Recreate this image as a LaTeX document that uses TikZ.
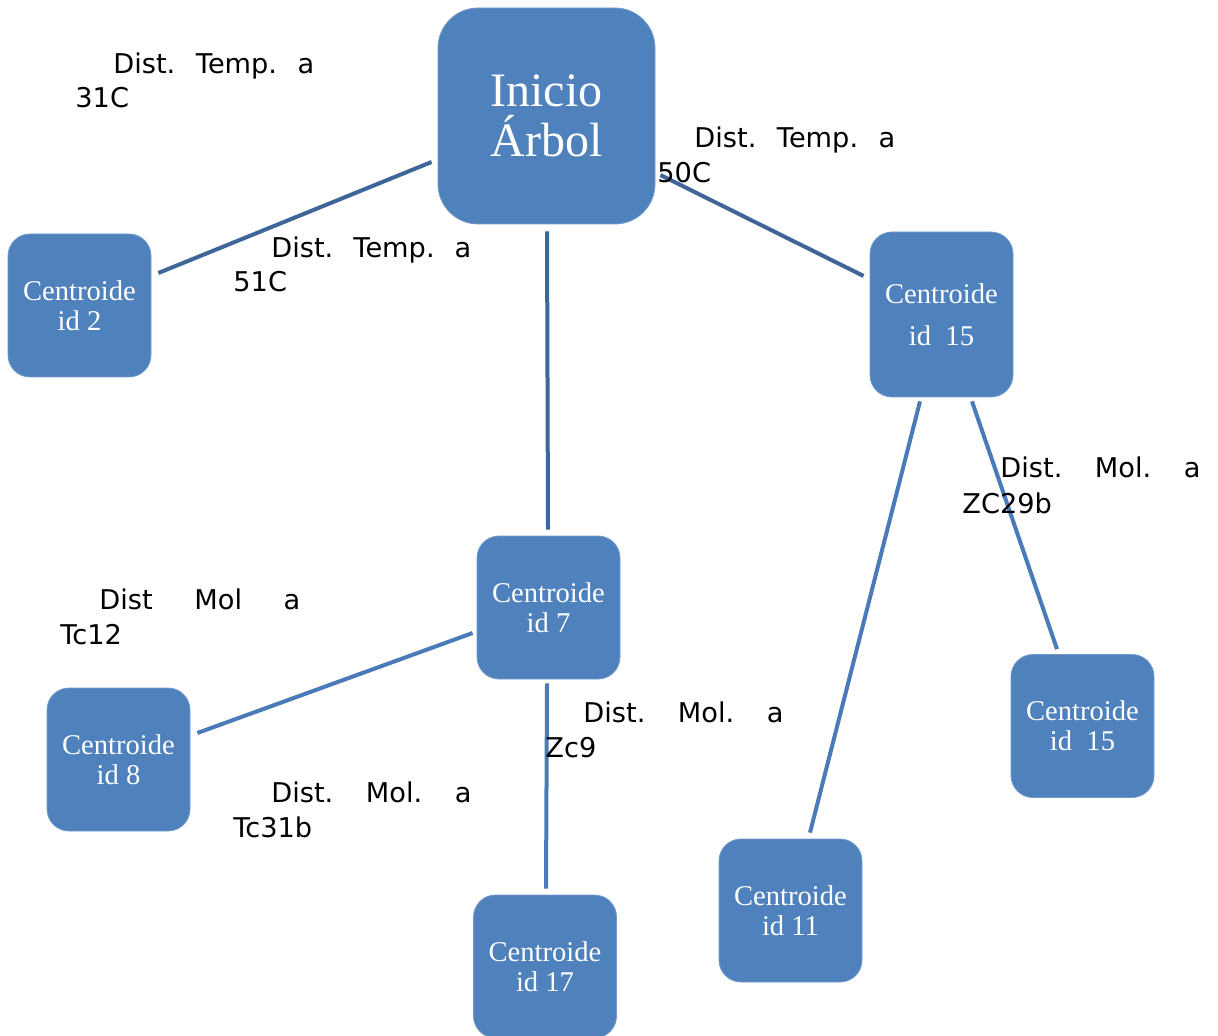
\documentclass[tikz,border=0pt]{standalone}
\usepackage{fontspec}
\newfontfamily\boxfont{Liberation Serif}
\newfontfamily\lblfont{DejaVu Sans}
\usetikzlibrary{calc}
\definecolor{boxblue}{HTML}{4F81BD}
\definecolor{lineA}{HTML}{3F6699}
\definecolor{lineB}{HTML}{4A7BB8}
\tikzset{
  cbox/.style={rectangle, rounded corners=11pt, fill=boxblue, draw=boxblue!80!white, line width=0.4pt,
    minimum width=71.5pt, minimum height=71.5pt, inner sep=0pt, text=white, align=center,
    font=\boxfont\fontsize{14.3}{15}\selectfont},
  bigbox/.style={rectangle, rounded corners=20pt, fill=boxblue, draw=boxblue!80!white, line width=0.4pt,
    minimum width=108.5pt, minimum height=108pt, inner sep=0pt, text=white, align=center,
    font=\boxfont\fontsize{24}{25}\selectfont},
  lbl/.style={anchor=base west, inner sep=0pt, font=\lblfont\fontsize{13.6}{17}\selectfont},
  linkA/.style={draw=lineA, line width=2pt},
  linkB/.style={draw=lineB, line width=2pt},
}
\begin{document}
\begin{tikzpicture}[x=0.5pt,y=-0.5pt]
\clip (0,0) rectangle (1218,1036);
\useasboundingbox (0,0) rectangle (1218,1036);
\fill[white] (0,0) rectangle (1218,1036);

% boxes
\node[bigbox] (inicio) at (546.5,116) {Inicio\\Árbol};
\node[cbox] (id2) at (79.5,305.5) {Centroide\\id 2};
\node[cbox, minimum height=82.5pt, font=\boxfont\fontsize{14.3}{21}\selectfont] (id15a) at (941.5,314.5) {Centroide\\id~~15};
\node[cbox] (id7) at (548.5,607.5) {Centroide\\id 7};
\node[cbox] (id8) at (118.5,759.5) {Centroide\\id 8};
\node[cbox] (id17) at (545,966.5) {Centroide\\id 17};
\node[cbox] (id11) at (790.5,910.5) {Centroide\\id 11};
\node[cbox] (id15b) at (1082.5,726) {Centroide\\id~~15};

% connectors
\draw[linkA] ($(inicio.west)+(-6,46)$) -- ($(id2.east)+(7,-32.5)$);
\draw[linkA] ($(inicio.south)+(0.5,7)$) -- ($(id7.north)+(-0.5,-6)$);
\draw[linkA] ($(inicio.east)+(5,59)$) -- ($(id15a.west)+(-6,-38.5)$);
\draw[linkB] ($(id15a.south)+(-21.5,4)$) -- ($(id11.north)+(19.5,-6)$);
\draw[linkB] ($(id15a.south)+(30.5,4)$) -- ($(id15b.north)+(-25.5,-5)$);
\draw[linkB] ($(id7.west)+(-4,25.5)$) -- ($(id8.east)+(7,-26.5)$);
\draw[linkB] ($(id7.south)+(-1.5,4)$) -- ($(id17.north)+(1,-6)$);

% labels
\node[lbl] (l1a) at (113,74) {\makebox[100.5pt][s]{Dist. Temp. a}};
\node[lbl] (l1b) at (75,108) {31C};
\node[lbl] (l2a) at (694,148) {\makebox[100.5pt][s]{Dist. Temp. a}};
\node[lbl] (l2b) at (657,183) {50C};
\node[lbl] (l3a) at (271,258) {\makebox[100pt][s]{Dist. Temp. a}};
\node[lbl] (l3b) at (233,292) {51C};
\node[lbl] (l4a) at (1000,478) {\makebox[100pt][s]{Dist. Mol. a}};
\node[lbl] (l4b) at (962,513) {ZC29b};
\node[lbl] (l5a) at (99,609) {\makebox[100.5pt][s]{Dist Mol a}};
\node[lbl] (l5b) at (60,644) {Tc12};
\node[lbl] (l6a) at (583,722) {\makebox[100pt][s]{Dist. Mol. a}};
\node[lbl] (l6b) at (545,757) {Zc9};
\node[lbl] (l7a) at (271,802) {\makebox[100pt][s]{Dist. Mol. a}};
\node[lbl] (l7b) at (233,837) {Tc31b};
\end{tikzpicture}
\end{document}
